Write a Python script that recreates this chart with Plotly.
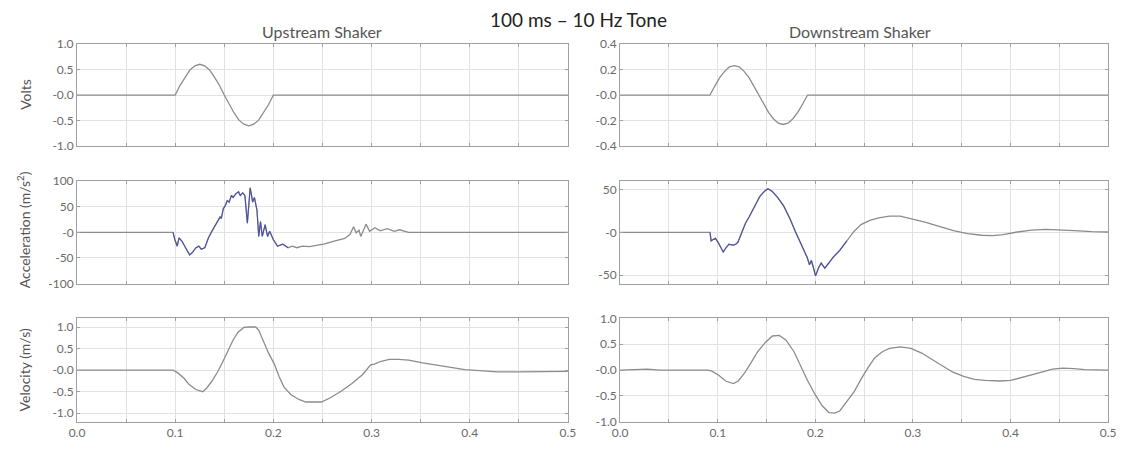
import plotly.graph_objects as go

# ---------------- data ----------------
# Drive voltage, upstream shaker (one 10 Hz cycle, 100 ms)
t_volt_up = [0.000, 0.100, 0.105, 0.110, 0.115, 0.120, 0.125, 0.130, 0.135, 0.140, 0.145,
             0.150, 0.155, 0.160, 0.165, 0.170, 0.175, 0.180, 0.185, 0.190, 0.195, 0.200, 0.500]
volt_up = [0, 0, 0.19, 0.35, 0.49, 0.57, 0.60, 0.57, 0.49, 0.35, 0.19,
           0, -0.19, -0.35, -0.49, -0.57, -0.60, -0.57, -0.49, -0.35, -0.19, 0, 0]

# Drive voltage, downstream shaker
t_volt_dn = [0.000, 0.092, 0.097, 0.102, 0.107, 0.112, 0.117, 0.122, 0.127, 0.132, 0.137,
             0.142, 0.147, 0.152, 0.157, 0.162, 0.167, 0.172, 0.177, 0.182, 0.187, 0.192, 0.500]
volt_dn = [0, 0, 0.07, 0.135, 0.185, 0.22, 0.23, 0.22, 0.185, 0.135, 0.07,
           0, -0.07, -0.135, -0.185, -0.22, -0.23, -0.22, -0.185, -0.135, -0.07, 0, 0]

# Measured acceleration, upstream shaker (m/s^2)
t_acc_up = [0.000, 0.0978, 0.0996, 0.1021, 0.1039, 0.1068, 0.1122, 0.1147, 0.1176, 0.1212,
            0.1241, 0.1266, 0.1302, 0.1338, 0.1374, 0.1400, 0.1429, 0.1457, 0.1470, 0.1490,
            0.1510, 0.1530, 0.1550, 0.1573, 0.1590, 0.1616, 0.1645, 0.1663, 0.1688, 0.1710,
            0.1735, 0.1764, 0.1789, 0.1807, 0.1833, 0.1851, 0.1869, 0.1887, 0.1916, 0.1941,
            0.1962, 0.1999, 0.2042, 0.2096, 0.2150, 0.2193, 0.2240, 0.2294, 0.2367, 0.2439,
            0.2511, 0.2619, 0.2727, 0.2781, 0.2817, 0.2843, 0.2872, 0.2890, 0.2915, 0.2944,
            0.2980, 0.3034, 0.3088, 0.3160, 0.3232, 0.3286, 0.3341, 0.3377, 0.5000]
acc_up = [0, 0, -14, -27, -11, -17, -36, -44, -39, -30,
          -27, -33, -30, -11, 2, 11, 21, 30, 27, 46,
          52, 62, 59, 72, 68, 75, 79, 72, 77, 72,
          18, 87, 59, 68, 43, -8, 21, -8, 15, -8,
          2, -14, -27, -23, -30, -27, -30, -27, -28, -25,
          -23, -17, -12, -4, 11, -1, 4, -8, 5, 16,
          2, 9, 3, 7, 2, 5, 2, 0, 0]

# Measured acceleration, downstream shaker (m/s^2)
t_acc_dn = [0.000, 0.0921, 0.0932, 0.0957, 0.0976, 0.1005, 0.1030, 0.1056, 0.1085, 0.1114,
            0.1158, 0.1183, 0.1205, 0.1249, 0.1285, 0.1321, 0.1376, 0.1431, 0.1478, 0.1514,
            0.1558, 0.1613, 0.1675, 0.1740, 0.1795, 0.1867, 0.1915, 0.1940, 0.1959, 0.1977,
            0.2002, 0.2031, 0.2060, 0.2097, 0.2133, 0.2184, 0.2250, 0.2323, 0.2395, 0.2468,
            0.2559, 0.2650, 0.2759, 0.2869, 0.2978, 0.3123, 0.3269, 0.3415, 0.3560, 0.3706,
            0.3815, 0.3924, 0.4070, 0.4216, 0.4361, 0.4507, 0.4652, 0.4834, 0.5000]
acc_dn = [0, 0, -10, -8, -7, -12, -18, -23, -18, -14,
          -15, -14, -12, 1, 11, 18, 31, 42, 48, 51,
          48, 41, 31, 16, 1, -18, -29, -38, -33, -40,
          -51, -42, -36, -42, -36, -29, -21, -10, 1, 9,
          14, 17, 19, 19, 16, 12, 7, 2, -1.5, -3.4,
          -3.8, -2.6, 0.4, 2.6, 3.4, 3.0, 2.0, 0.8, 0.4]

# Integrated velocity, upstream shaker (m/s)
t_vel_up = [0.000, 0.090, 0.098, 0.103, 0.109, 0.114, 0.121, 0.128, 0.132, 0.137,
            0.143, 0.148, 0.154, 0.159, 0.164, 0.170, 0.175, 0.182, 0.185, 0.190,
            0.195, 0.201, 0.206, 0.211, 0.218, 0.226, 0.233, 0.240, 0.249, 0.258,
            0.269, 0.280, 0.291, 0.299, 0.303, 0.309, 0.318, 0.327, 0.338, 0.352,
            0.370, 0.388, 0.395, 0.410, 0.428, 0.450, 0.500]
vel_up = [0.00, 0.00, 0.00, -0.07, -0.19, -0.33, -0.45, -0.50, -0.42, -0.27,
          -0.05, 0.17, 0.44, 0.70, 0.88, 0.99, 1.00, 1.00, 0.93, 0.66,
          0.40, 0.14, -0.16, -0.40, -0.57, -0.68, -0.74, -0.74, -0.74, -0.64,
          -0.49, -0.31, -0.10, 0.12, 0.14, 0.20, 0.25, 0.25, 0.23, 0.17,
          0.11, 0.05, 0.01, -0.01, -0.04, -0.04, -0.03]

# Integrated velocity, downstream shaker (m/s)
t_vel_dn = [0.000, 0.028, 0.040, 0.090, 0.094, 0.101, 0.108, 0.116, 0.121, 0.127,
            0.134, 0.141, 0.149, 0.156, 0.163, 0.170, 0.178, 0.185, 0.192, 0.200,
            0.207, 0.214, 0.220, 0.225, 0.232, 0.240, 0.247, 0.254, 0.261, 0.269,
            0.276, 0.287, 0.298, 0.309, 0.320, 0.331, 0.341, 0.352, 0.363, 0.374,
            0.389, 0.400, 0.411, 0.422, 0.432, 0.443, 0.454, 0.465, 0.476, 0.500]
vel_dn = [0.00, 0.02, 0.00, 0.00, -0.02, -0.10, -0.21, -0.26, -0.21, -0.07,
          0.14, 0.36, 0.54, 0.66, 0.67, 0.58, 0.36, 0.08, -0.20, -0.48,
          -0.69, -0.82, -0.83, -0.79, -0.62, -0.41, -0.17, 0.05, 0.24, 0.36,
          0.42, 0.45, 0.42, 0.33, 0.20, 0.08, -0.04, -0.12, -0.18, -0.20,
          -0.21, -0.20, -0.15, -0.09, -0.04, 0.02, 0.04, 0.03, 0.01, 0.00]

# Time spans where the raw accelerometer trace is busy (drawn in blue on top)
busy_up = [0.097, 0.215]
busy_dn = [0.091, 0.235]

# Axis ticks
x_ticks = [0.0, 0.1, 0.2, 0.3, 0.4, 0.5]
x_tick_text = ["0.0", "0.1", "0.2", "0.3", "0.4", "0.5"]
y_ticks_volt_up = [-1.0, -0.5, 0.0, 0.5, 1.0]
y_text_volt_up = ["-1.0", "-0.5", "-0.0", "0.5", "1.0"]
y_ticks_volt_dn = [-0.4, -0.2, 0.0, 0.2, 0.4]
y_text_volt_dn = ["-0.4", "-0.2", "-0.0", "0.2", "0.4"]
y_ticks_acc_up = [-100, -50, 0, 50, 100]
y_text_acc_up = ["-100", "-50", "-0", "50", "100"]
y_ticks_acc_dn = [-50, 0, 50]
y_text_acc_dn = ["-50", "-0", "50"]
y_ticks_vel = [-1.0, -0.5, 0.0, 0.5, 1.0]
y_text_vel = ["-1.0", "-0.5", "-0.0", "0.5", "1.0"]

# ---------------- layout geometry ----------------
W, H = 1124, 454
col_dom = [[70 / W, 568 / W], [621 / W, 1116 / W]]
row_dom = [[1 - 143 / H, 1 - 37 / H], [1 - 285 / H, 1 - 179 / H], [1 - 428 / H, 1 - 321 / H]]

GRAY = "#8c8c8c"
BLUE = "#4446a6"
FONT = "Lato, 'Open Sans', sans-serif"
FRAME = "#a0a0a0"

panels = [
    # (row, col, t, y, busy span, yrange, yticks, ytext)
    (0, 0, t_volt_up, volt_up, None, [-1, 1], y_ticks_volt_up, y_text_volt_up),
    (0, 1, t_volt_dn, volt_dn, None, [-0.4, 0.4], y_ticks_volt_dn, y_text_volt_dn),
    (1, 0, t_acc_up, acc_up, busy_up, [-100, 100], y_ticks_acc_up, y_text_acc_up),
    (1, 1, t_acc_dn, acc_dn, busy_dn, [-60, 60], y_ticks_acc_dn, y_text_acc_dn),
    (2, 0, t_vel_up, vel_up, None, [-1.2, 1.2], y_ticks_vel, y_text_vel),
    (2, 1, t_vel_dn, vel_dn, None, [-1.0, 1.0], y_ticks_vel, y_text_vel),
]

fig = go.Figure()
axis_style = dict(
    showline=True, linecolor=FRAME, linewidth=1, mirror="ticks",
    ticks="inside", ticklen=3, tickcolor=FRAME,
    showgrid=True, gridcolor="#e2e2e2", gridwidth=1, zeroline=False,
    tickfont=dict(family=FONT, size=12, color="#6a6a6a"),
)

for i, (r, c, t, y, busy, yr, yt, ytx) in enumerate(panels, start=1):
    sfx = "" if i == 1 else str(i)
    fig.add_trace(go.Scatter(
        x=t, y=y, mode="lines", line=dict(color=GRAY, width=1.3),
        xaxis="x" + sfx, yaxis="y" + sfx, showlegend=False, hoverinfo="skip",
    ))
    if busy is not None:
        seg = [k for k, tk in enumerate(t) if busy[0] <= tk <= busy[1]]
        fig.add_trace(go.Scatter(
            x=[t[k] for k in seg], y=[y[k] for k in seg], mode="lines",
            line=dict(color=BLUE, width=1.1), opacity=0.85,
            xaxis="x" + sfx, yaxis="y" + sfx, showlegend=False, hoverinfo="skip",
        ))
    fig.update_layout({
        "xaxis" + sfx: dict(
            axis_style, domain=col_dom[c], range=[0, 0.5], anchor="y" + sfx,
            tickmode="array", tickvals=x_ticks, ticktext=x_tick_text,
            showticklabels=(r == 2),
            minor=dict(tickmode="linear", tick0=0, dtick=0.05, ticks="inside",
                       ticklen=3, tickcolor=FRAME, showgrid=True, gridcolor="#e2e2e2"),
        ),
        "yaxis" + sfx: dict(
            axis_style, domain=row_dom[r], range=yr, anchor="x" + sfx,
            tickmode="array", tickvals=yt, ticktext=ytx,
        ),
    })

annotations = [
    dict(text="100 ms \u2013 10 Hz Tone", x=579 / W, y=1 - 12 / H,
         font=dict(family=FONT, size=19, color="#222222")),
    dict(text="Upstream Shaker", x=319 / W, y=1 - 24 / H,
         font=dict(family=FONT, size=16, color="#555555")),
    dict(text="Downstream Shaker", x=864 / W, y=1 - 24 / H,
         font=dict(family=FONT, size=16, color="#555555")),
    dict(text="Volts", x=17 / W, y=1 - 89 / H, textangle=-90,
         font=dict(family=FONT, size=14, color="#555555")),
    dict(text="Acceleration (m/s<sup>2</sup>)", x=16 / W, y=1 - 229 / H, textangle=-90,
         font=dict(family=FONT, size=14, color="#555555")),
    dict(text="Velocity (m/s)", x=17 / W, y=1 - 374 / H, textangle=-90,
         font=dict(family=FONT, size=14, color="#555555")),
]
for a in annotations:
    a.update(xref="paper", yref="paper", showarrow=False, xanchor="center", yanchor="middle")

fig.update_layout(
    width=W, height=H, autosize=False,
    margin=dict(l=0, r=0, t=0, b=0),
    paper_bgcolor="white", plot_bgcolor="white",
    annotations=annotations,
)

fig.write_html("out.html")
